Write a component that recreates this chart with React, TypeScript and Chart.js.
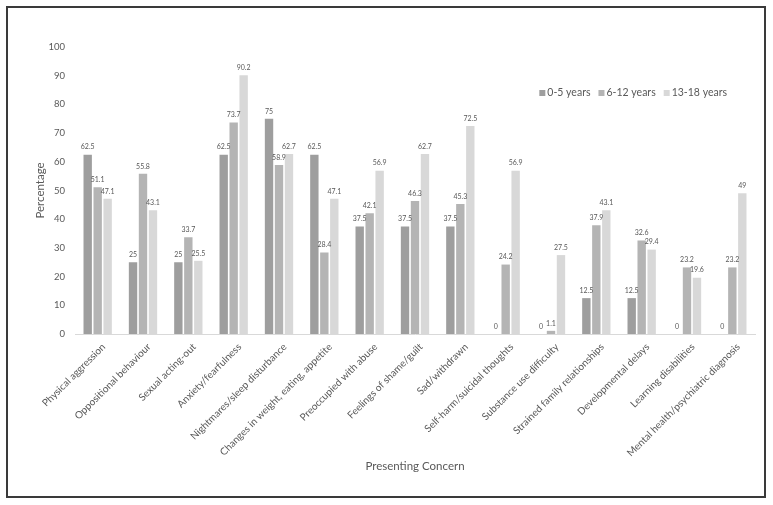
import { useEffect, useRef } from "react";
import { Chart, registerables } from "chart.js";

Chart.register(...registerables);

const categories = [
  "Physical aggression",
  "Oppositional behaviour",
  "Sexual acting-out",
  "Anxiety/fearfulness",
  "Nightmares/sleep disturbance",
  "Changes in weight, eating, appetite",
  "Preoccupied with abuse",
  "Feelings of shame/guilt",
  "Sad/withdrawn",
  "Self-harm/suicidal thoughts",
  "Substance use difficulty",
  "Strained family relationships",
  "Developmental delays",
  "Learning disabilities",
  "Mental health/psychiatric diagnosis",
];

const seriesLabels = ["0-5 years", "6-12 years", "13-18 years"];
const ages0to5 = [62.5, 25, 25, 62.5, 75, 62.5, 37.5, 37.5, 37.5, 0, 0, 12.5, 12.5, 0, 0];
const ages6to12 = [51.1, 55.8, 33.7, 73.7, 58.9, 28.4, 42.1, 46.3, 45.3, 24.2, 1.1, 37.9, 32.6, 23.2, 23.2];
const ages13to18 = [47.1, 43.1, 25.5, 90.2, 62.7, 47.1, 56.9, 62.7, 72.5, 56.9, 27.5, 43.1, 29.4, 19.6, 49];
const seriesColors = ["#9e9e9e", "#b4b4b4", "#d8d8d8"];

const yMin = 0;
const yMax = 100;
const yStep = 10;

const FONT = "Lato, 'Open Sans', sans-serif";
const TEXT = "#595959";

const valueLabels = {
  id: "valueLabels",
  afterDatasetsDraw(chart: any) {
    const ctx = chart.ctx;
    ctx.save();
    ctx.font = `7px ${FONT}`;
    ctx.fillStyle = TEXT;
    ctx.textAlign = "center";
    ctx.textBaseline = "bottom";
    chart.data.datasets.forEach((ds: any, i: number) => {
      const meta = chart.getDatasetMeta(i);
      meta.data.forEach((bar: any, j: number) => {
        ctx.fillText(String(ds.data[j]), bar.x, bar.y - 4);
      });
    });
    ctx.restore();
  },
};

const insideLegend = {
  id: "insideLegend",
  afterDraw(chart: any) {
    const ctx = chart.ctx;
    const area = chart.chartArea;
    ctx.save();
    ctx.font = `10.5px ${FONT}`;
    ctx.textBaseline = "middle";
    ctx.textAlign = "left";
    const box = 6;
    const gap = 2;
    const itemGap = 8;
    const items = chart.data.datasets.map((ds: any) => ({
      label: ds.label,
      color: ds.backgroundColor,
      w: box + gap + ctx.measureText(ds.label).width,
    }));
    const total = items.reduce((s: number, it: any) => s + it.w, 0) + itemGap * (items.length - 1);
    let x = area.right - 28 - total;
    const y = area.top + 46;
    items.forEach((it: any) => {
      ctx.fillStyle = it.color;
      ctx.fillRect(x, y - box / 2, box, box);
      ctx.fillStyle = TEXT;
      ctx.fillText(it.label, x + box + gap, y);
      x += it.w + itemGap;
    });
    ctx.restore();
  },
};

export default function App() {
  const ref = useRef<HTMLCanvasElement | null>(null);

  useEffect(() => {
    if (!ref.current) return;
    const chart = new Chart(ref.current, {
      type: "bar",
      data: {
        labels: categories,
        datasets: [ages0to5, ages6to12, ages13to18].map((d, i) => ({
          label: seriesLabels[i],
          data: d,
          backgroundColor: seriesColors[i],
          categoryPercentage: 0.66,
          barPercentage: 0.84,
        })),
      },
      options: {
        responsive: false,
        animation: false,
        devicePixelRatio: 1,
        layout: { padding: { left: 28, right: 18, top: 47, bottom: 25 } },
        plugins: {
          legend: { display: false },
          tooltip: { enabled: false },
        },
        scales: {
          x: {
            grid: { display: false, drawTicks: false },
            border: { display: true, color: "#d9d9d9" },
            ticks: {
              autoSkip: false,
              minRotation: 45,
              maxRotation: 45,
              padding: 7,
              labelOffset: 6,
              color: TEXT,
              font: { family: FONT, size: 10 },
            },
            title: {
              display: true,
              text: "Presenting Concern",
              color: TEXT,
              font: { family: FONT, size: 11.5 },
              padding: { top: 0, bottom: 7 },
            },
            afterFit(scale: any) {
              scale.height = 146;
            },
          },
          y: {
            min: yMin,
            max: yMax,
            grid: { display: false, drawTicks: false },
            border: { display: false },
            ticks: {
              stepSize: yStep,
              padding: 10,
              color: TEXT,
              font: { family: FONT, size: 9.5 },
            },
            title: {
              display: true,
              text: "Percentage",
              color: TEXT,
              font: { family: FONT, size: 11.5 },
              padding: { top: 5, bottom: 0 },
            },
            afterFit(scale: any) {
              scale.width = 47;
            },
          },
        },
      },
      plugins: [valueLabels, insideLegend],
    });
    return () => chart.destroy();
  }, []);

  return (
    <div style={{ position: "absolute", left: 0, top: 0, width: 773, height: 505, background: "#fff" }}>
      <canvas ref={ref} width={773} height={505} style={{ position: "absolute", left: 0, top: 0, width: 773, height: 505 }} />
      <div
        style={{
          position: "absolute",
          left: 6,
          top: 6,
          width: 760,
          height: 492,
          boxSizing: "border-box",
          border: "2px solid #3a3a3a",
          pointerEvents: "none",
        }}
      />
    </div>
  );
}
